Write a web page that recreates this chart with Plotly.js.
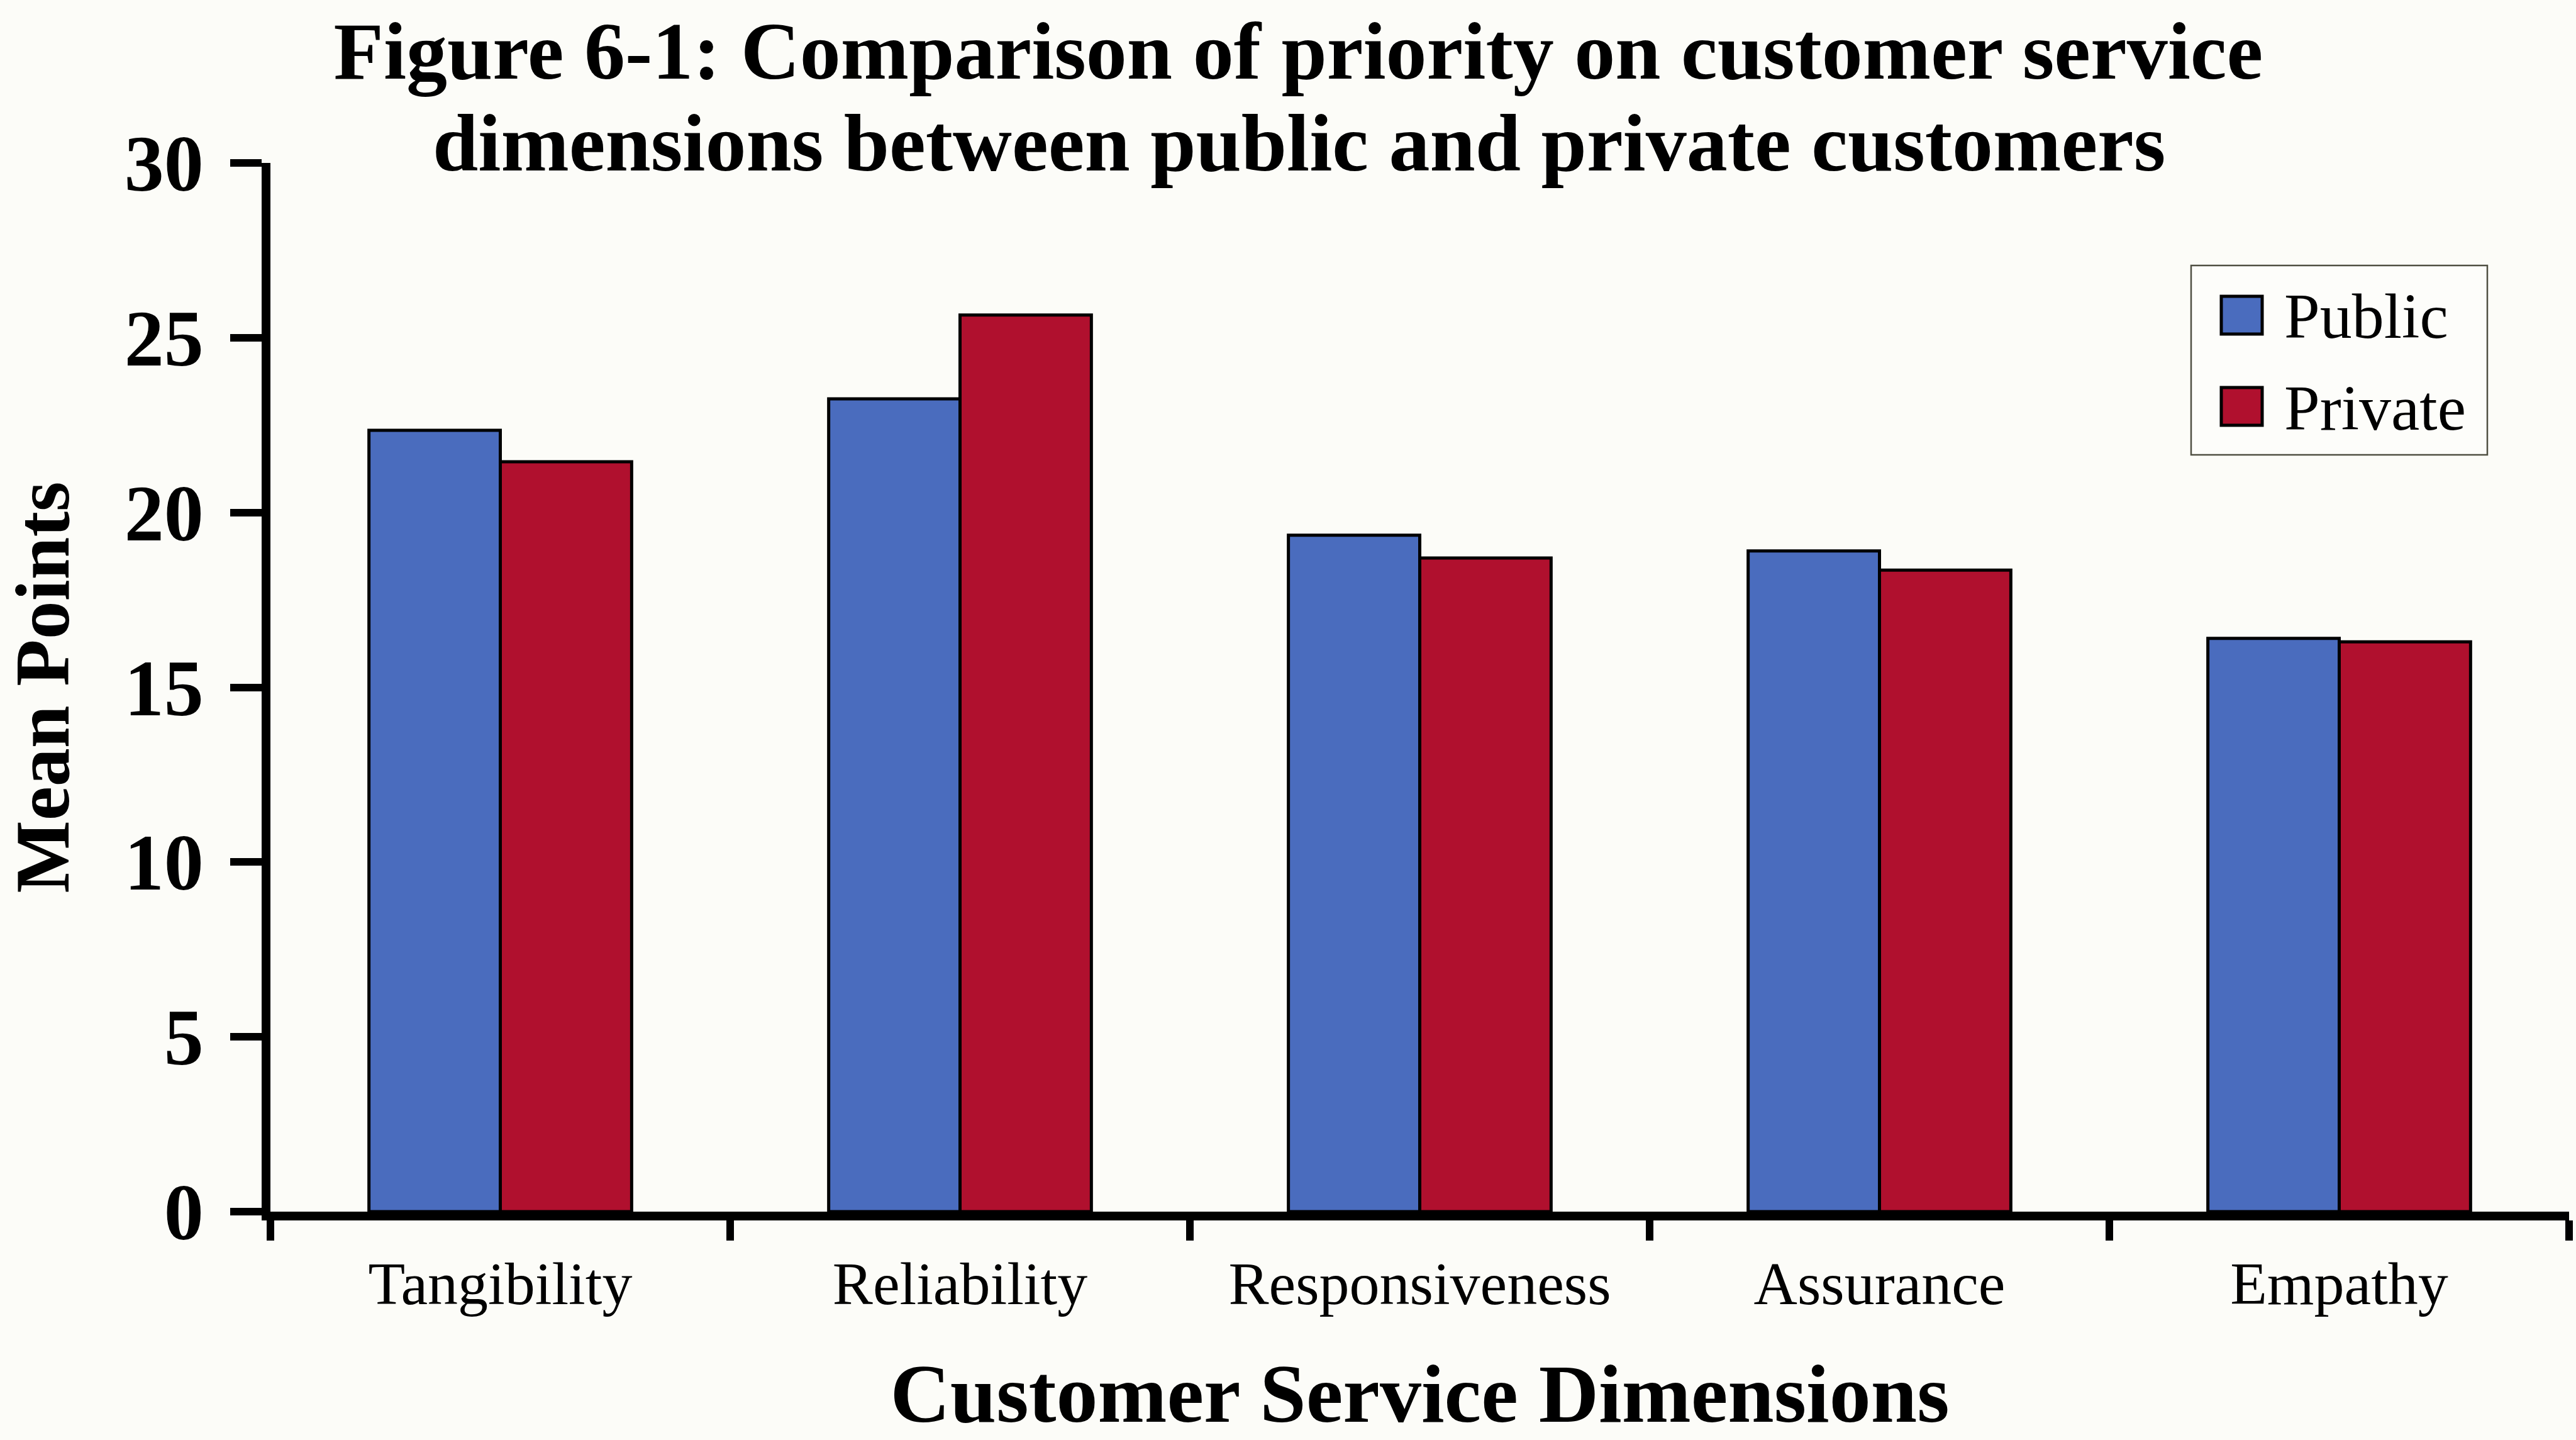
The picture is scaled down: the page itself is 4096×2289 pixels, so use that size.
<!DOCTYPE html>
<html>
<head>
<meta charset="utf-8">
<script src="https://cdn.plot.ly/plotly-3.0.1.min.js"></script>
<style>
  html, body { margin: 0; padding: 0; background: #fcfcf8; }
  #chart { width: 4096px; height: 2289px; }
</style>
</head>
<body>
<div id="chart"></div>
<script>
// Mean priority points per customer service dimension
const categories = ['Tangibility', 'Reliability', 'Responsiveness', 'Assurance', 'Empathy'];
const publicMeans = [22.35, 23.25, 19.35, 18.9, 16.4];
const privateMeans = [21.45, 25.65, 18.7, 18.35, 16.3];
const seriesNames = ['Public', 'Private'];
const yTickValues = [0, 5, 10, 15, 20, 25, 30];

const titleLines = [
  'Figure 6-1: Comparison of priority on customer service',
  'dimensions between public and private customers'
];
const xTitle = 'Customer Service Dimensions';
const yTitle = 'Mean Points';

// Styling
const W = 4096, H = 2289;
const M = { l: 430, r: 11, t: 259, b: 363 };
const PW = W - M.l - M.r, PH = H - M.t - M.b;
const SERIF = 'Liberation Serif, Times New Roman, serif';
const BG = '#fcfcf8';
const colors = ['#4a6cbe', '#b0102e'];

// window pixel -> paper fraction
const px = x => (x - M.l) / PW;
const py = y => (M.t + PH - y) / PH;

const traces = [publicMeans, privateMeans].map((vals, i) => ({
  type: 'bar',
  name: seriesNames[i],
  x: categories,
  y: vals,
  marker: { color: colors[i], line: { color: '#000000', width: 5 } },
  hoverinfo: 'x+y+name'
}));

// Legend box drawn as shapes + annotations
const shapes = [{
  type: 'rect', xref: 'paper', yref: 'paper',
  x0: px(3484), x1: px(3955), y0: py(723), y1: py(422),
  line: { color: '#4f4f42', width: 2.5 }, fillcolor: '#fdfdfa', layer: 'above'
}];
const annotations = [{
  text: titleLines[1], xref: 'paper', yref: 'paper',
  x: px(2065), y: py(227), xanchor: 'center', yanchor: 'middle',
  showarrow: false, font: { family: SERIF, size: 130, weight: 700, color: '#000' }
}];
const swatchTop = [471, 616];
const labelMid = [502, 648];
seriesNames.forEach((name, i) => {
  shapes.push({
    type: 'rect', xref: 'paper', yref: 'paper',
    x0: px(3532), x1: px(3597), y0: py(swatchTop[i] + 60), y1: py(swatchTop[i]),
    line: { color: '#000000', width: 5 }, fillcolor: colors[i], layer: 'above'
  });
  annotations.push({
    text: name, xref: 'paper', yref: 'paper',
    x: px(3630), y: py(labelMid[i]), xanchor: 'left', yanchor: 'middle',
    showarrow: false, font: { family: SERIF, size: 102, color: '#000' }
  });
});

const layout = {
  width: W, height: H,
  margin: { l: M.l, r: M.r, t: M.t, b: M.b, pad: 0 },
  paper_bgcolor: BG, plot_bgcolor: BG,
  barmode: 'group', bargap: 0.4286, bargroupgap: 0,
  showlegend: false,
  title: {
    text: titleLines[0], xref: 'container', yref: 'container',
    x: 0.504, xanchor: 'center', y: 1 - 79 / H, yanchor: 'middle',
    font: { family: SERIF, size: 130, weight: 700, color: '#000' }
  },
  xaxis: {
    type: 'category', showline: true, linecolor: '#000', linewidth: 14,
    ticks: 'outside', tickson: 'boundaries', ticklen: 32, tickwidth: 12, tickcolor: '#000',
    ticklabelstandoff: 18,
    tickfont: { family: SERIF, size: 96, color: '#000' },
    showgrid: false, zeroline: false, automargin: false, fixedrange: true,
    title: { text: xTitle, standoff: 118, font: { family: SERIF, size: 132, weight: 700, color: '#000' } }
  },
  yaxis: {
    range: [0, 30], tickmode: 'array', tickvals: yTickValues, ticktext: yTickValues.map(String),
    showline: true, linecolor: '#000', linewidth: 14,
    ticks: 'outside', ticklen: 50, tickwidth: 12, tickcolor: '#000',
    ticklabelstandoff: 17,
    tickfont: { family: SERIF, size: 126, weight: 700, color: '#000' },
    showgrid: false, zeroline: false, automargin: false, fixedrange: true,
    title: { text: yTitle, standoff: 56, font: { family: SERIF, size: 122, weight: 700, color: '#000' } }
  },
  shapes: shapes,
  annotations: annotations
};

Plotly.newPlot('chart', traces, layout, { staticPlot: true, displayModeBar: false });
</script>
</body>
</html>
